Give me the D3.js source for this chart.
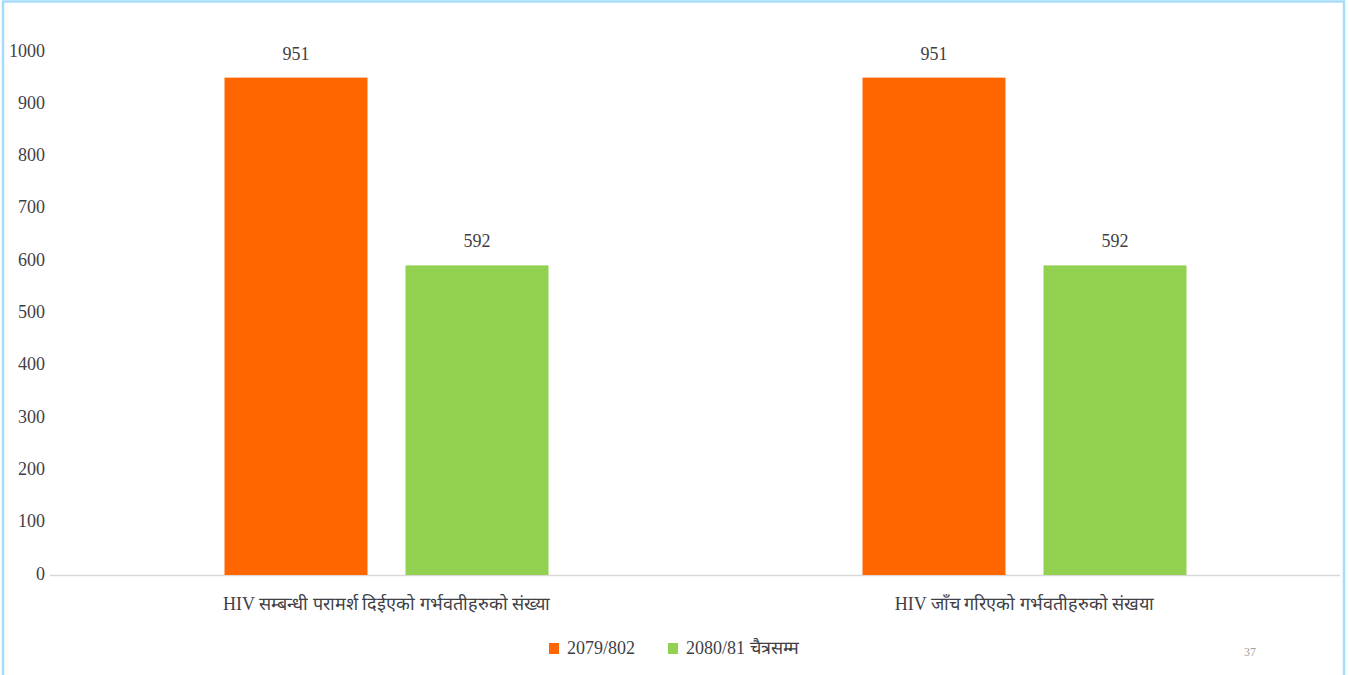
<!DOCTYPE html>
<html><head><meta charset="utf-8">
<script src="https://cdn.jsdelivr.net/npm/d3@7"></script>
<style>
body{margin:0;background:#fff;}
svg{display:block;}
text{font-family:"Liberation Serif","Times New Roman",serif;}
</style></head>
<body><svg id="c" width="1349" height="675"></svg>
<script>
const categories = ["HIV सम्बन्धी परामर्श दिईएको गर्भवतीहरुको संख्या", "HIV जाँच गरिएको गर्भवतीहरुको संखया"];
const seriesNames = ["2079/802", "2080/81 चैत्रसम्म"];
const series1 = [951, 951];
const series2 = [592, 592];
const yTicks = [0,100,200,300,400,500,600,700,800,900,1000];
const colors = ["#ff6600", "#92d050"];
const pageNo = "37";

const svg = d3.select("#c");
// frame
svg.append("rect").attr("x",3).attr("y",1.5).attr("width",1341).attr("height",690)
  .attr("fill","none").attr("stroke","#a6dcfb").attr("stroke-width",2.5);

const x0 = d3.scaleBand().domain(categories).range([67.5,1343.5]).paddingInner(0).paddingOuter(0);
const y = d3.scaleLinear().domain([0,1000]).range([575,52]);
const x1 = d3.scaleBand().domain([0,1]).range([157,481]).paddingInner(0.21).paddingOuter(0);

const textColor = "#3f3f46";
// y axis labels
const ya = svg.append("g").attr("transform","translate(45,0)")
  .call(d3.axisLeft(y).tickValues(yTicks).tickSize(0).tickPadding(0).tickFormat(d3.format("d")));
ya.select(".domain").remove();
ya.selectAll("text").attr("font-size",18).attr("fill",textColor)
  .attr("font-family","Liberation Serif").attr("dy","0").attr("transform","translate(0,4)");

// baseline
svg.append("line").attr("x1",50).attr("x2",1340).attr("y1",y(0)+0.5).attr("y2",y(0)+0.5)
  .attr("stroke","#d9d9d9").attr("stroke-width",1.5);

const data = categories.map((c,i)=>({c, vals:[series1[i], series2[i]]}));
const g = svg.append("g");
data.forEach(d=>{
  d.vals.forEach((v,j)=>{
    const bx = x0(d.c)+x1(j);
    g.append("rect").attr("x",bx).attr("y",y(v)).attr("width",x1.bandwidth()).attr("height",y(0)-y(v))
      .attr("fill",colors[j]);
    g.append("text").attr("x",bx+x1.bandwidth()/2).attr("y",y(v)-18).attr("text-anchor","middle")
      .attr("font-size",18).attr("fill",textColor).text(v);
  });
});

// category labels
svg.append("g").selectAll("text").data(categories).join("text")
  .attr("x",d=>x0(d)+x0.bandwidth()/2).attr("y",610).attr("text-anchor","middle")
  .attr("font-size",18).attr("fill",textColor).text(d=>d);

// legend
const legX = [549, 668];
seriesNames.forEach((n,i)=>{
  svg.append("rect").attr("x",legX[i]).attr("y",643).attr("width",10).attr("height",11).attr("fill",colors[i]);
  svg.append("text").attr("x",legX[i]+18).attr("y",654).attr("font-size",18).attr("fill",textColor).text(n);
});

svg.append("text").attr("x",1250).attr("y",656).attr("text-anchor","middle")
  .attr("font-family","Liberation Sans").attr("font-size",12).attr("fill","#a0a0a0").text(pageNo);
</script></body></html>
